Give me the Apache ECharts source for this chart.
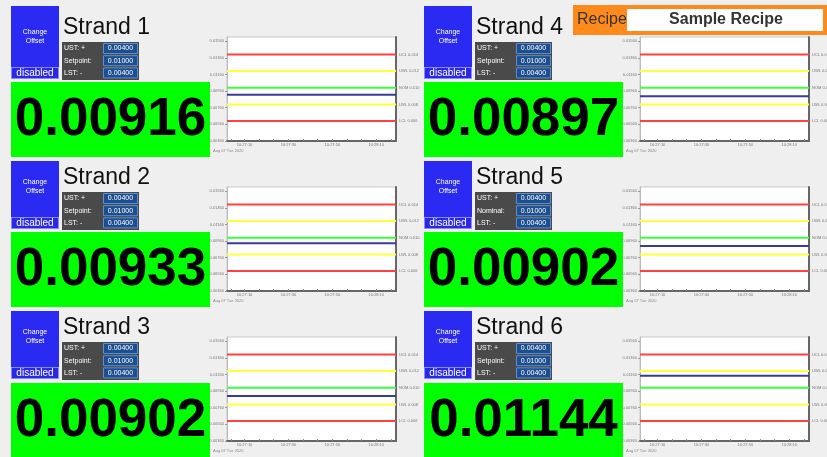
<!DOCTYPE html>
<html>
<head>
<meta charset="utf-8">
<script src="https://cdn.jsdelivr.net/npm/echarts@6/dist/echarts.min.js"></script>
<style>
html,body{margin:0;padding:0;background:#efefef;}
#chart{width:827px;height:457px;}
</style>
</head>
<body>
<div id="chart"></div>
<script>
// ---------- data ----------
const strandNames = ['Strand 1', 'Strand 2', 'Strand 3', 'Strand 4', 'Strand 5', 'Strand 6'];
const currentValues = [0.00916, 0.00933, 0.00902, 0.00897, 0.00902, 0.01144];
const setpointLabels = ['Setpoint:', 'Setpoint:', 'Setpoint:', 'Setpoint:', 'Nominal:', 'Setpoint:'];
const ustValues = [0.004, 0.004, 0.004, 0.004, 0.004, 0.004];
const setpointValues = [0.01, 0.01, 0.01, 0.01, 0.01, 0.01];
const lstValues = [0.004, 0.004, 0.004, 0.004, 0.004, 0.004];
const limitNames = ['UCL', 'UWL', 'NOM', 'LWL', 'LCL'];
const limitValues = [0.014, 0.012, 0.010, 0.008, 0.006];
const limitColors = ['#ff4040', '#ffff3a', '#3cff3c', '#ffff3a', '#ff4040'];
const historyTimes = [2, 79];          // seconds after 10:27:00
const xTickSeconds = [10, 30, 50, 70];
const xTickLabels = ['10:27:10', '10:27:30', '10:27:50', '10:28:10'];
const yTickValues = [0.0036, 0.0056, 0.0076, 0.0096, 0.0116, 0.0136, 0.0156];
const yTickLabels = ['0.00360', '0.00560', '0.00760', '0.00960', '0.01160', '0.01360', '0.01560'];
const dateLabel = 'Aug 07 Tue 2020';
const recipeName = 'Sample Recipe';

// ---------- layout ----------
const panelX = [0, 0, 0, 413, 413, 413];
const panelY = [0, 150, 300, 0, 150, 300];
const FONT = '"Liberation Sans", Arial, sans-serif';

const grids = [], xAxes = [], yAxes = [], series = [], graphics = [];

strandNames.forEach((name, i) => {
  const ox = panelX[i], oy = panelY[i];
  const row = i % 3;
  // chart
  grids.push({left: ox + 227, top: oy + 37, width: 169, height: 104, show: true,
    backgroundColor: '#ffffff', borderColor: '#c8c8c8', borderWidth: 1});
  xAxes.push({type: 'value', gridIndex: i, min: historyTimes[0], max: historyTimes[1],
    splitLine: {show: false},
    axisLine: {show: true, lineStyle: {color: '#666', width: 2}},
    axisTick: {show: true, inside: true, length: 2, lineStyle: {color: '#888'},
      customValues: [4, 10, 16.7, 23.3, 30, 36.7, 43.3, 50, 56.7, 63.3, 70, 76.7]},
    axisLabel: {show: true, fontSize: 4, color: '#777', margin: 2, fontFamily: FONT,
      customValues: xTickSeconds,
      formatter: v => xTickLabels[xTickSeconds.indexOf(v)] || ''}
  });
  yAxes.push({type: 'value', gridIndex: i, min: 0.0036, max: 0.0161, position: 'left',
    splitLine: {show: false},
    axisLine: {show: true, lineStyle: {color: '#bbb', width: 1}},
    axisTick: {show: true, length: 2, lineStyle: {color: '#999'}, customValues: yTickValues},
    axisLabel: {show: true, fontSize: 4, color: '#777', margin: 3, fontFamily: FONT,
      customValues: yTickValues,
      formatter: v => {
        const k = yTickValues.findIndex(t => Math.abs(t - v) < 1e-9);
        return k >= 0 ? yTickLabels[k] : '';
      }}
  });
  yAxes.push({type: 'value', gridIndex: i, min: 0.0036, max: 0.0161, position: 'right',
    splitLine: {show: false}, axisTick: {show: false}, axisLabel: {show: false},
    axisLine: {show: true, lineStyle: {color: '#666', width: 2}}
  });
  limitValues.forEach((lv, k) => {
    series.push({type: 'line', xAxisIndex: i, yAxisIndex: i * 2, showSymbol: false, silent: true,
      data: historyTimes.map(t => [t, lv]),
      lineStyle: {color: limitColors[k], width: 2}, animation: false,
      endLabel: {show: true, fontSize: 4, color: '#777', distance: 3, fontFamily: FONT,
        formatter: limitNames[k] + ' ' + lv.toFixed(3)}
    });
  });
  series.push({type: 'line', xAxisIndex: i, yAxisIndex: i * 2, showSymbol: false, silent: true,
    data: historyTimes.map(t => [t, currentValues[i]]),
    lineStyle: {color: '#3a3a9a', width: 2}, animation: false, z: 3});

  // panel widgets
  const btnTop = row === 0 ? 6 : oy + 11;
  graphics.push(
    {type: 'rect', shape: {x: ox + 11, y: btnTop, width: 48, height: oy + 67 - btnTop}, style: {fill: '#2a2af2'}},
    {type: 'rect', shape: {x: ox + 11.5, y: oy + 67.5, width: 47, height: 11}, style: {fill: '#2828e6', stroke: '#8a8aff', lineWidth: 1}},
    {type: 'text', style: {text: 'Change', x: ox + 35, y: oy + 32, fill: '#fff', font: '7px ' + FONT, align: 'center', verticalAlign: 'middle', textAlign: 'center', textVerticalAlign: 'middle'}},
    {type: 'text', style: {text: 'Offset', x: ox + 35, y: oy + 41, fill: '#fff', font: '7px ' + FONT, align: 'center', verticalAlign: 'middle', textAlign: 'center', textVerticalAlign: 'middle'}},
    {type: 'text', style: {text: 'disabled', x: ox + 35, y: oy + 73.5, fill: '#fff', font: '10px ' + FONT, align: 'center', verticalAlign: 'middle', textAlign: 'center', textVerticalAlign: 'middle'}},
    {type: 'text', style: {text: name, x: ox + 63, y: oy + 39, fill: '#111', font: '23px ' + FONT, align: 'left', verticalAlign: 'bottom', textAlign: 'left', textVerticalAlign: 'bottom'}},
    {type: 'rect', shape: {x: ox + 62, y: oy + 42, width: 77, height: 38}, style: {fill: '#4a4a4a'}},
    {type: 'rect', shape: {x: ox + 11, y: oy + 82 + (row === 2 ? 1 : 0), width: 199, height: 75}, style: {fill: '#00ff00'}},
    {type: 'text', style: {text: currentValues[i].toFixed(5), x: ox + 110.5, y: oy + 120 + (row === 2 ? 1 : 0), fill: '#000', font: 'bold 53px ' + FONT, align: 'center', verticalAlign: 'middle', textAlign: 'center', textVerticalAlign: 'middle'}},
    {type: 'text', style: {text: dateLabel, x: ox + 213, y: oy + 151, fill: '#888', font: '4px ' + FONT, align: 'left', verticalAlign: 'middle', textAlign: 'left', textVerticalAlign: 'middle'}}
  );
  const rowLabels = ['UST: +', setpointLabels[i], 'LST: -'];
  const rowValues = [ustValues[i], setpointValues[i], lstValues[i]];
  rowLabels.forEach((lab, r) => {
    const ry = oy + 43 + r * 12.2;
    graphics.push(
      {type: 'rect', shape: {x: ox + 103.5, y: ry + 0.5, width: 34, height: 10}, style: {fill: '#1d4f8e', stroke: '#5d8ed0', lineWidth: 1}},
      {type: 'text', style: {text: lab, x: ox + 64, y: ry + 5.5, fill: '#fff', font: '7px ' + FONT, align: 'left', verticalAlign: 'middle', textAlign: 'left', textVerticalAlign: 'middle'}},
      {type: 'text', style: {text: rowValues[r].toFixed(5), x: ox + 120.5, y: ry + 5.5, fill: '#fff', font: '7px ' + FONT, align: 'center', verticalAlign: 'middle', textAlign: 'center', textVerticalAlign: 'middle'}}
    );
  });
});

// recipe box
graphics.push(
  {type: 'rect', z: 100, shape: {x: 573, y: 5, width: 260, height: 30}, style: {fill: '#ff8a1c'}},
  {type: 'rect', z: 101, shape: {x: 627, y: 9, width: 196, height: 22}, style: {fill: '#ffffff'}},
  {type: 'text', z: 102, style: {text: 'Recipe', x: 577, y: 20, fill: '#333', font: '16px ' + FONT, align: 'left', verticalAlign: 'middle', textAlign: 'left', textVerticalAlign: 'middle'}},
  {type: 'text', z: 102, style: {text: recipeName, x: 726, y: 20, fill: '#333', font: 'bold 16px ' + FONT, align: 'center', verticalAlign: 'middle', textAlign: 'center', textVerticalAlign: 'middle'}}
);

const chart = echarts.init(document.getElementById('chart'), null, {renderer: 'canvas'});
chart.setOption({
  backgroundColor: '#efefef',
  animation: false,
  grid: grids,
  xAxis: xAxes,
  yAxis: yAxes,
  series: series,
  graphic: graphics
});
</script>
</body>
</html>
